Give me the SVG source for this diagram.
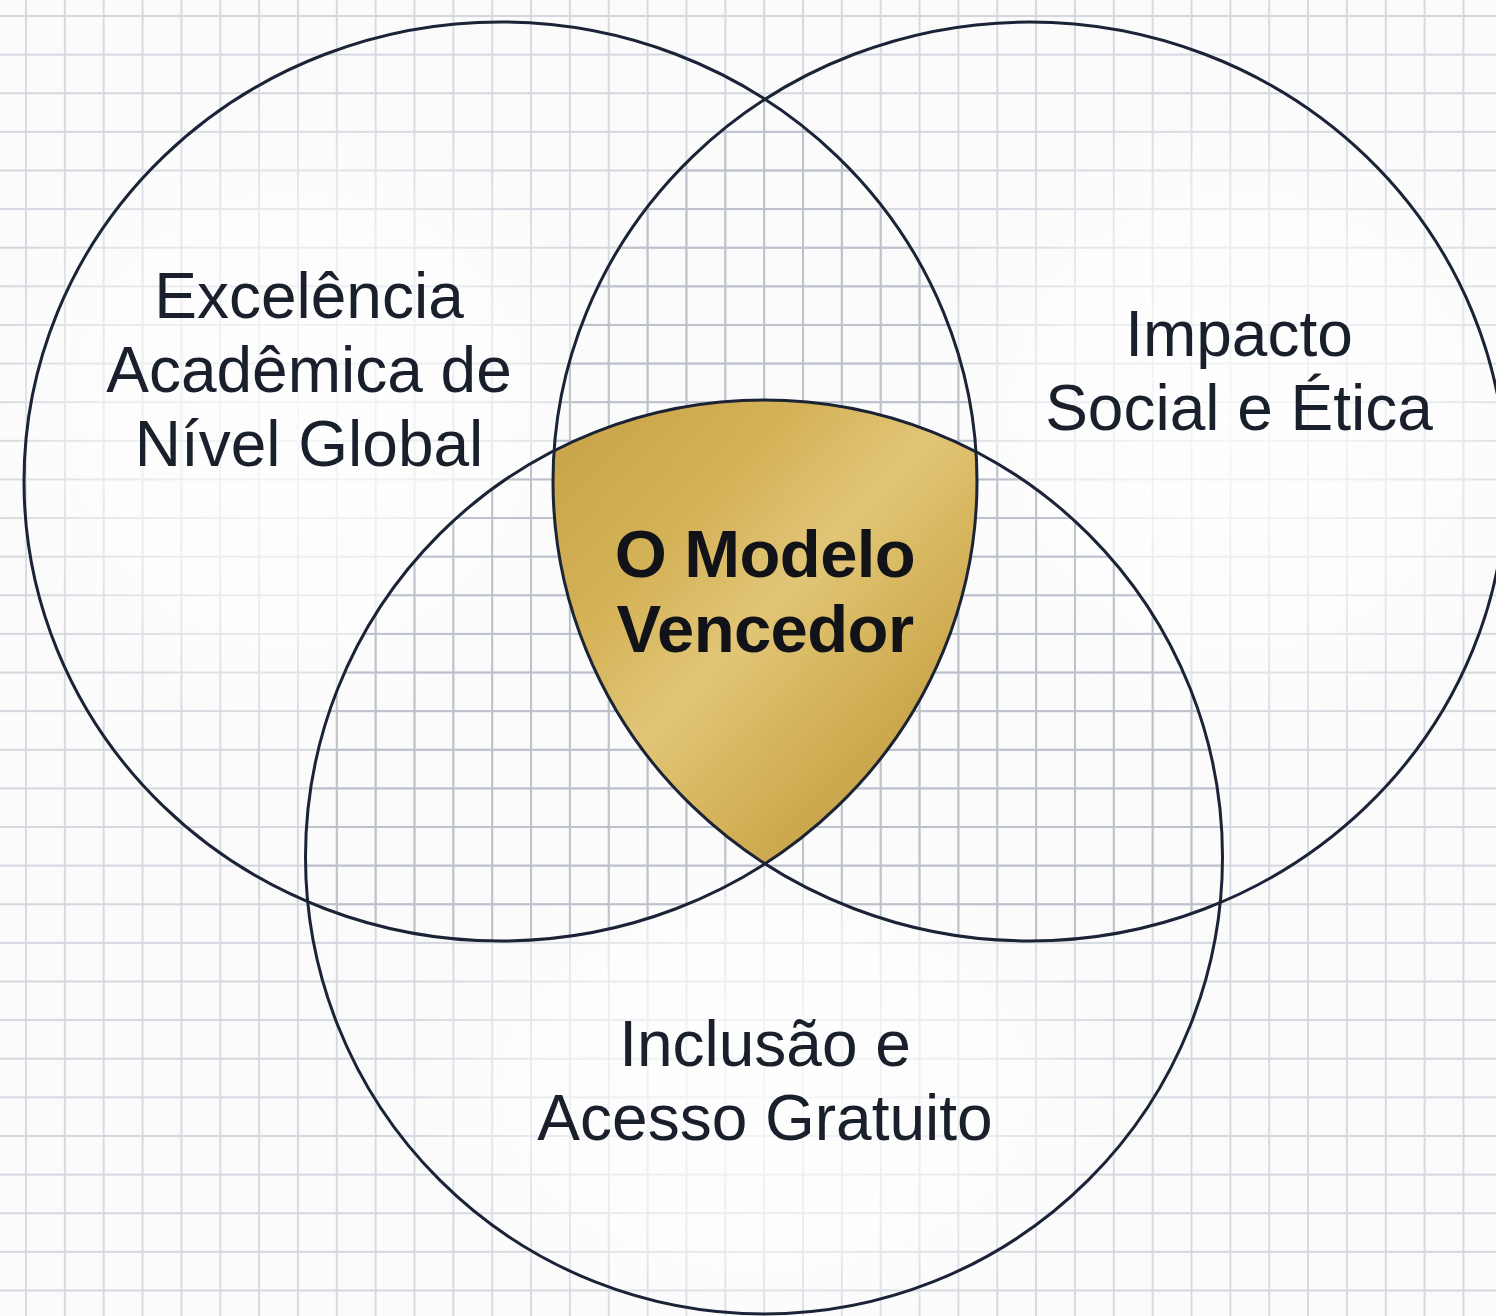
<svg xmlns="http://www.w3.org/2000/svg" width="1496" height="1316" viewBox="0 0 1496 1316">
  <style>
    .ring { fill: none; stroke: #1b2336; stroke-width: 3; }
    .lbl { font-family: "Liberation Sans", Arial, sans-serif; font-size: 64px; fill: #1a1f2c; text-anchor: middle; }
    .core { font-family: "Liberation Sans", Arial, sans-serif; font-size: 67px; font-weight: bold; fill: #111318; text-anchor: middle; letter-spacing: -0.6px; }
  </style>
  <defs>
    <pattern id="grid" patternUnits="userSpaceOnUse" x="25" y="15" width="38.85" height="38.62">
      <path d="M1 0V38.62M0 1H38.85" stroke="#d3d7de" stroke-width="1.8"/>
    </pattern>
    <pattern id="gridDark" patternUnits="userSpaceOnUse" x="25" y="15" width="38.85" height="38.62">
      <path d="M1 0V38.62M0 1H38.85" stroke="#bcc1cb" stroke-width="1.9"/>
    </pattern>
    <radialGradient id="glow">
      <stop offset="0" stop-color="#ffffff" stop-opacity="0.8"/>
      <stop offset="0.6" stop-color="#ffffff" stop-opacity="0.5"/>
      <stop offset="1" stop-color="#ffffff" stop-opacity="0"/>
    </radialGradient>
    <linearGradient id="gold" x1="0" y1="0" x2="1" y2="1">
      <stop offset="0" stop-color="#c6a145"/>
      <stop offset="0.3" stop-color="#d4b257"/>
      <stop offset="0.48" stop-color="#e1c577"/>
      <stop offset="0.62" stop-color="#d6b65d"/>
      <stop offset="0.85" stop-color="#c29c41"/>
      <stop offset="1" stop-color="#b08832"/>
    </linearGradient>
    <clipPath id="c1"><ellipse cx="500.5" cy="481.5" rx="476.5" ry="459.5"/></clipPath>
    <clipPath id="c2"><ellipse cx="1029.5" cy="481.5" rx="476.5" ry="459.5"/></clipPath>
    <clipPath id="c3"><ellipse cx="764" cy="857" rx="458.5" ry="457"/></clipPath>
  </defs>

  <rect width="1496" height="1316" fill="#fbfbfc"/>
  <rect width="1496" height="1316" fill="url(#grid)"/>

  <!-- soft glows inside exclusive regions -->
  <ellipse cx="300" cy="420" rx="330" ry="330" fill="url(#glow)"/>
  <ellipse cx="1240" cy="420" rx="330" ry="330" fill="url(#glow)"/>
  <ellipse cx="765" cy="1090" rx="380" ry="260" fill="url(#glow)"/>

  <!-- darker grid in pairwise overlaps -->
  <g clip-path="url(#c1)"><rect width="1496" height="1316" fill="url(#gridDark)" clip-path="url(#c2)"/></g>
  <g clip-path="url(#c1)"><rect width="1496" height="1316" fill="url(#gridDark)" clip-path="url(#c3)"/></g>
  <g clip-path="url(#c2)"><rect width="1496" height="1316" fill="url(#gridDark)" clip-path="url(#c3)"/></g>

  <g id="center-model">
    <g clip-path="url(#c1)"><g clip-path="url(#c2)">
      <rect x="540" y="390" width="450" height="480" fill="url(#gold)" clip-path="url(#c3)"/>
    </g></g>
  </g>

  <g id="circle-excellence">
    <ellipse class="ring" cx="500.5" cy="481.5" rx="476.5" ry="459.5"/>
    <text class="lbl" x="309" y="318">Excelência</text>
    <text class="lbl" x="309" y="392">Acadêmica de</text>
    <text class="lbl" x="309" y="466">Nível Global</text>
  </g>
  <g id="circle-impact">
    <ellipse class="ring" cx="1029.5" cy="481.5" rx="476.5" ry="459.5"/>
    <text class="lbl" x="1239" y="356">Impacto</text>
    <text class="lbl" x="1239" y="430">Social e Ética</text>
  </g>
  <g id="circle-inclusion">
    <ellipse class="ring" cx="764" cy="857" rx="458.5" ry="457"/>
    <text class="lbl" x="765" y="1066">Inclusão e</text>
    <text class="lbl" x="765" y="1140">Acesso Gratuito</text>
  </g>
  <g id="center-label">
    <text class="core" x="765" y="577">O Modelo</text>
    <text class="core" x="765" y="652">Vencedor</text>
  </g>
  <g id="connectors"/>
</svg>
